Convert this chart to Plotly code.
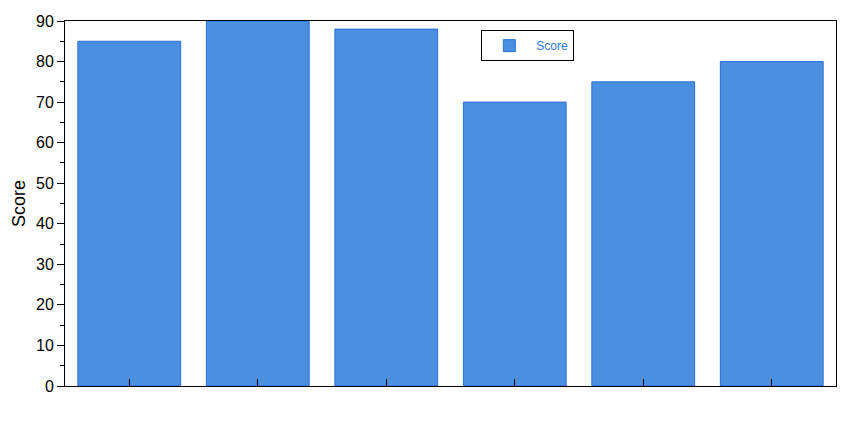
import plotly.graph_objects as go

categories = ['A', 'B', 'C', 'D', 'E', 'F']
scores = [85, 90, 88, 70, 75, 80]

fig = go.Figure()
fig.add_trace(go.Bar(x=categories, y=scores, name='Score',
                     marker=dict(color='#4a8fe0', line=dict(color='#2a6ed8', width=1)),
                     showlegend=True))

# page body has an 8px margin, so size the figure to fit inside the window
fig.update_layout(width=842, height=413,
                  margin=dict(l=57, r=14, t=13, b=35),
                  plot_bgcolor='white', paper_bgcolor='white',
                  bargap=0.2,
                  font=dict(family='Liberation Sans, Arial', color='black'),
                  legend=dict(x=0.54, y=0.975, xanchor='left', yanchor='top',
                              bordercolor='black', borderwidth=1, bgcolor='white',
                              itemwidth=44,
                              font=dict(size=12, color='#2f7ad8')))

fig.update_xaxes(showticklabels=False, ticks='inside', ticklen=7, tickcolor='black',
                 showline=True, linecolor='black', linewidth=1, mirror=True,
                 showgrid=False, automargin=False)
fig.update_yaxes(range=[0, 90], dtick=10, ticks='outside', ticklen=7, tickcolor='black',
                 minor=dict(dtick=5, ticks='outside', ticklen=4, tickcolor='black'),
                 showline=True, linecolor='black', linewidth=1, mirror=True,
                 showgrid=False, zeroline=False, automargin=False,
                 tickfont=dict(size=16),
                 title=dict(text='Score', font=dict(size=18), standoff=5))

fig.write_html("out.html")
